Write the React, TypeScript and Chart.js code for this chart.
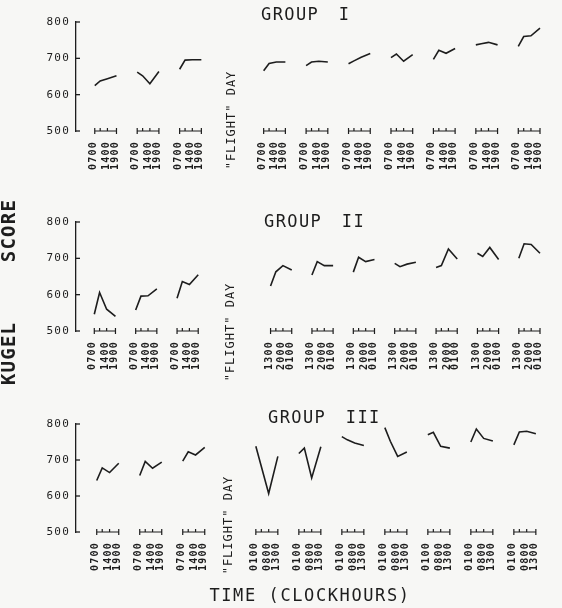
import { useEffect, useRef } from "react";
import { Chart, registerables } from "chart.js";

Chart.register(...registerables);

// ---------------- data ----------------
const sampleHours = [0, 3, 7, 12]; // hours after the first test of a session
const labelHours = [0, 7, 12];
const preFlightLabels = ["0700", "1400", "1900"];
const groupIIPostLabels = ["1300", "2000", "0100"];
const groupIIIPostLabels = ["0100", "0800", "1300"];
const yTicks = [500, 600, 700, 800];

const groupIScores = [
  [625, 638, 644, 652],
  [662, 652, 630, 664],
  [670, 695, 696, 696],
  [666, 686, 690, 690],
  [680, 690, 692, 690],
  [685, 693, 703, 713],
  [702, 712, 692, 710],
  [697, 722, 714, 727],
  [737, 740, 744, 737],
  [733, 760, 762, 783],
];
const groupIIScores = [
  [546, 606, 560, 540],
  [558, 596, 597, 616],
  [590, 636, 628, 655],
  [624, 663, 680, 668],
  [654, 691, 680, 680],
  [662, 703, 691, 697],
  [686, 677, 684, 689],
  [675, 680, 726, 698],
  [714, 705, 730, 697],
  [700, 740, 738, 714],
];
const groupIIIScores = [
  [643, 678, 665, 691],
  [657, 696, 677, 694],
  [697, 723, 714, 735],
  [738, 682, 607, 710],
  [718, 733, 650, 737],
  [765, 756, 747, 740],
  [790, 752, 710, 722],
  [770, 777, 738, 733],
  [750, 786, 760, 753],
  [742, 778, 780, 773],
];

// ---------------- layout / style ----------------
const INK = "#1d1d1d";
const MONO = "'DejaVu Sans Mono', monospace";
const SEG_W = 0.512; // width of a 12-hour session in slot units
const X_MIN = -0.442;
const X_MAX = 10.86;

type Extra = {
  text: string;
  x: number;
  y: number;
  rotate: boolean;
  font: string;
  spacing: string;
  wordSpacing?: string;
};

type PanelCfg = {
  title: string;
  scores: number[][];
  postLabels: string[];
  preStart: number;
  postStart: number;
  flightAt: number;
  titleX: number;
  titleDy: number;
  flightDy: number;
  top: number;
  height: number;
  padTop: number;
  bottomH: number;
  extras: Extra[];
};

const panels: PanelCfg[] = [
  {
    title: "GROUP I",
    scores: groupIScores,
    postLabels: preFlightLabels,
    preStart: 0,
    postStart: 3.98,
    flightAt: 3.24,
    titleX: 261,
    titleDy: -6,
    flightDy: -11,
    top: 0,
    height: 200,
    padTop: 22,
    bottomH: 69,
    extras: [],
  },
  {
    title: "GROUP II",
    scores: groupIIScores,
    postLabels: groupIIPostLabels,
    preStart: 0,
    postStart: 4.26,
    flightAt: 3.29,
    titleX: 264,
    titleDy: 1,
    flightDy: 1,
    top: 190,
    height: 210,
    padTop: 32,
    bottomH: 69,
    extras: [
      {
        text: "KÜGEL SCORE",
        x: 10,
        y: 102,
        rotate: true,
        font: `bold 19px ${MONO}`,
        spacing: "1.2px",
        wordSpacing: "47px",
      },
    ],
  },
  {
    title: "GROUP III",
    scores: groupIIIScores,
    postLabels: groupIIIPostLabels,
    preStart: 0.04,
    postStart: 3.74,
    flightAt: 3.12,
    titleX: 268,
    titleDy: -5,
    flightDy: -7,
    top: 400,
    height: 208,
    padTop: 24,
    bottomH: 76,
    extras: [
      {
        text: "TIME (CLOCKHOURS)",
        x: 310,
        y: 197,
        rotate: false,
        font: `17px ${MONO}`,
        spacing: "1.6px",
      },
    ],
  },
];

function sessionStarts(cfg: PanelCfg): number[] {
  return cfg.scores.map((_, s) =>
    s < 3 ? cfg.preStart + s : cfg.postStart + (s - 3)
  );
}

const decorPlugin = {
  id: "decor",
  beforeDraw(chart: any) {
    (chart.ctx as any).letterSpacing = "1.2px";
  },
  afterDraw(chart: any, _args: any, opts: any) {
    const { ctx, chartArea, scales } = chart;
    const xs = scales.x;
    const ys = scales.y;
    ctx.save();
    ctx.strokeStyle = INK;
    ctx.fillStyle = INK;
    ctx.lineWidth = 1.3;
    // inward y ticks
    for (const v of yTicks) {
      const py = ys.getPixelForValue(v);
      ctx.beginPath();
      ctx.moveTo(chartArea.left, py);
      ctx.lineTo(chartArea.left + 4, py);
      ctx.stroke();
    }
    // session time axes
    const base = ys.getPixelForValue(500);
    ctx.lineWidth = 1.2;
    for (const s of opts.starts as number[]) {
      const x0 = xs.getPixelForValue(s);
      const x1 = xs.getPixelForValue(s + SEG_W);
      ctx.beginPath();
      ctx.moveTo(x0, base);
      ctx.lineTo(x1, base);
      ctx.moveTo(x0, base - 3);
      ctx.lineTo(x0, base + 3);
      ctx.moveTo(x1, base - 3);
      ctx.lineTo(x1, base + 3);
      for (const h of sampleHours.slice(1, -1)) {
        const xi = xs.getPixelForValue(s + (h / 12) * SEG_W);
        ctx.moveTo(xi, base);
        ctx.lineTo(xi, base - 3);
      }
      ctx.stroke();
    }
    // title
    ctx.save();
    ctx.font = `17px ${MONO}`;
    (ctx as any).letterSpacing = "1.4px";
    (ctx as any).wordSpacing = "8px";
    ctx.textAlign = "left";
    ctx.textBaseline = "middle";
    ctx.fillText(opts.title, opts.titleX, chartArea.top + opts.titleDy);
    ctx.restore();
    // flight day
    ctx.save();
    ctx.font = `12px ${MONO}`;
    (ctx as any).letterSpacing = "1px";
    ctx.translate(xs.getPixelForValue(opts.flightAt), base + opts.flightDy);
    ctx.rotate(-Math.PI / 2);
    ctx.textAlign = "center";
    ctx.textBaseline = "middle";
    ctx.fillText('"FLIGHT" DAY', 0, 0);
    ctx.restore();
    // extra labels
    for (const e of opts.extras as Extra[]) {
      ctx.save();
      ctx.font = e.font;
      (ctx as any).letterSpacing = e.spacing;
      (ctx as any).wordSpacing = e.wordSpacing ?? "0px";
      ctx.translate(e.x, e.y);
      if (e.rotate) ctx.rotate(-Math.PI / 2);
      ctx.textAlign = "center";
      ctx.textBaseline = "middle";
      ctx.fillText(e.text, 0, 0);
      ctx.restore();
    }
    ctx.restore();
  },
};

function Panel({ cfg }: { cfg: PanelCfg }) {
  const ref = useRef<HTMLCanvasElement>(null);
  useEffect(() => {
    const starts = sessionStarts(cfg);
    const tickList: { value: number; label: string }[] = [];
    starts.forEach((s, si) => {
      const labels = si < 3 ? preFlightLabels : cfg.postLabels;
      labelHours.forEach((h, j) => {
        tickList.push({ value: s + (h / 12) * SEG_W, label: labels[j] });
      });
    });
    const datasets = cfg.scores.map((vals, si) => ({
      data: vals.map((v, i) => ({
        x: starts[si] + (sampleHours[i] / 12) * SEG_W,
        y: v,
      })),
      borderColor: INK,
      borderWidth: 1.6,
      pointRadius: 0,
      tension: 0,
      fill: false,
      clip: false as any,
    }));
    const chart = new Chart(ref.current!, {
      type: "line",
      data: { datasets },
      options: {
        responsive: false,
        animation: false,
        events: [],
        layout: { padding: { top: cfg.padTop, left: 0, right: 0, bottom: 0 } },
        plugins: {
          legend: { display: false },
          tooltip: { enabled: false },
          title: { display: false },
          decor: {
            starts,
            title: cfg.title,
            titleX: cfg.titleX,
            titleDy: cfg.titleDy,
            flightAt: cfg.flightAt,
            flightDy: cfg.flightDy,
            extras: cfg.extras,
          },
        } as any,
        scales: {
          x: {
            type: "linear",
            min: X_MIN,
            max: X_MAX,
            grid: { display: false, drawTicks: false },
            border: { display: false },
            afterBuildTicks: (axis: any) => {
              axis.ticks = tickList.map((t) => ({ value: t.value }));
            },
            afterFit: (axis: any) => {
              axis.height = cfg.bottomH;
            },
            ticks: {
              autoSkip: false,
              minRotation: 90,
              maxRotation: 90,
              padding: 10,
              labelOffset: -1.5,
              color: INK,
              font: { family: MONO, size: 10, weight: "bold" },
              callback: (_v: any, i: number) => tickList[i]?.label ?? "",
            },
          },
          y: {
            type: "linear",
            min: 500,
            max: 800,
            grid: { display: false, drawTicks: false },
            border: { display: true, color: INK, width: 1.3 },
            afterBuildTicks: (axis: any) => {
              axis.ticks = yTicks.map((v) => ({ value: v }));
            },
            afterFit: (axis: any) => {
              axis.width = 76;
            },
            ticks: {
              padding: 6,
              color: INK,
              font: { family: MONO, size: 11 },
            },
          },
        },
      },
      plugins: [decorPlugin as any],
    });
    return () => chart.destroy();
  }, [cfg]);
  return (
    <canvas
      ref={ref}
      width={562}
      height={cfg.height}
      style={{
        position: "absolute",
        left: 0,
        top: cfg.top,
        width: 562,
        height: cfg.height,
        display: "block",
      }}
    />
  );
}

export default function App() {
  return (
    <div
      style={{
        position: "fixed",
        left: 0,
        top: 0,
        width: 562,
        height: 608,
        background: "#f7f7f5",
        overflow: "hidden",
      }}
    >
      {panels.map((p) => (
        <Panel key={p.title} cfg={p} />
      ))}
    </div>
  );
}
